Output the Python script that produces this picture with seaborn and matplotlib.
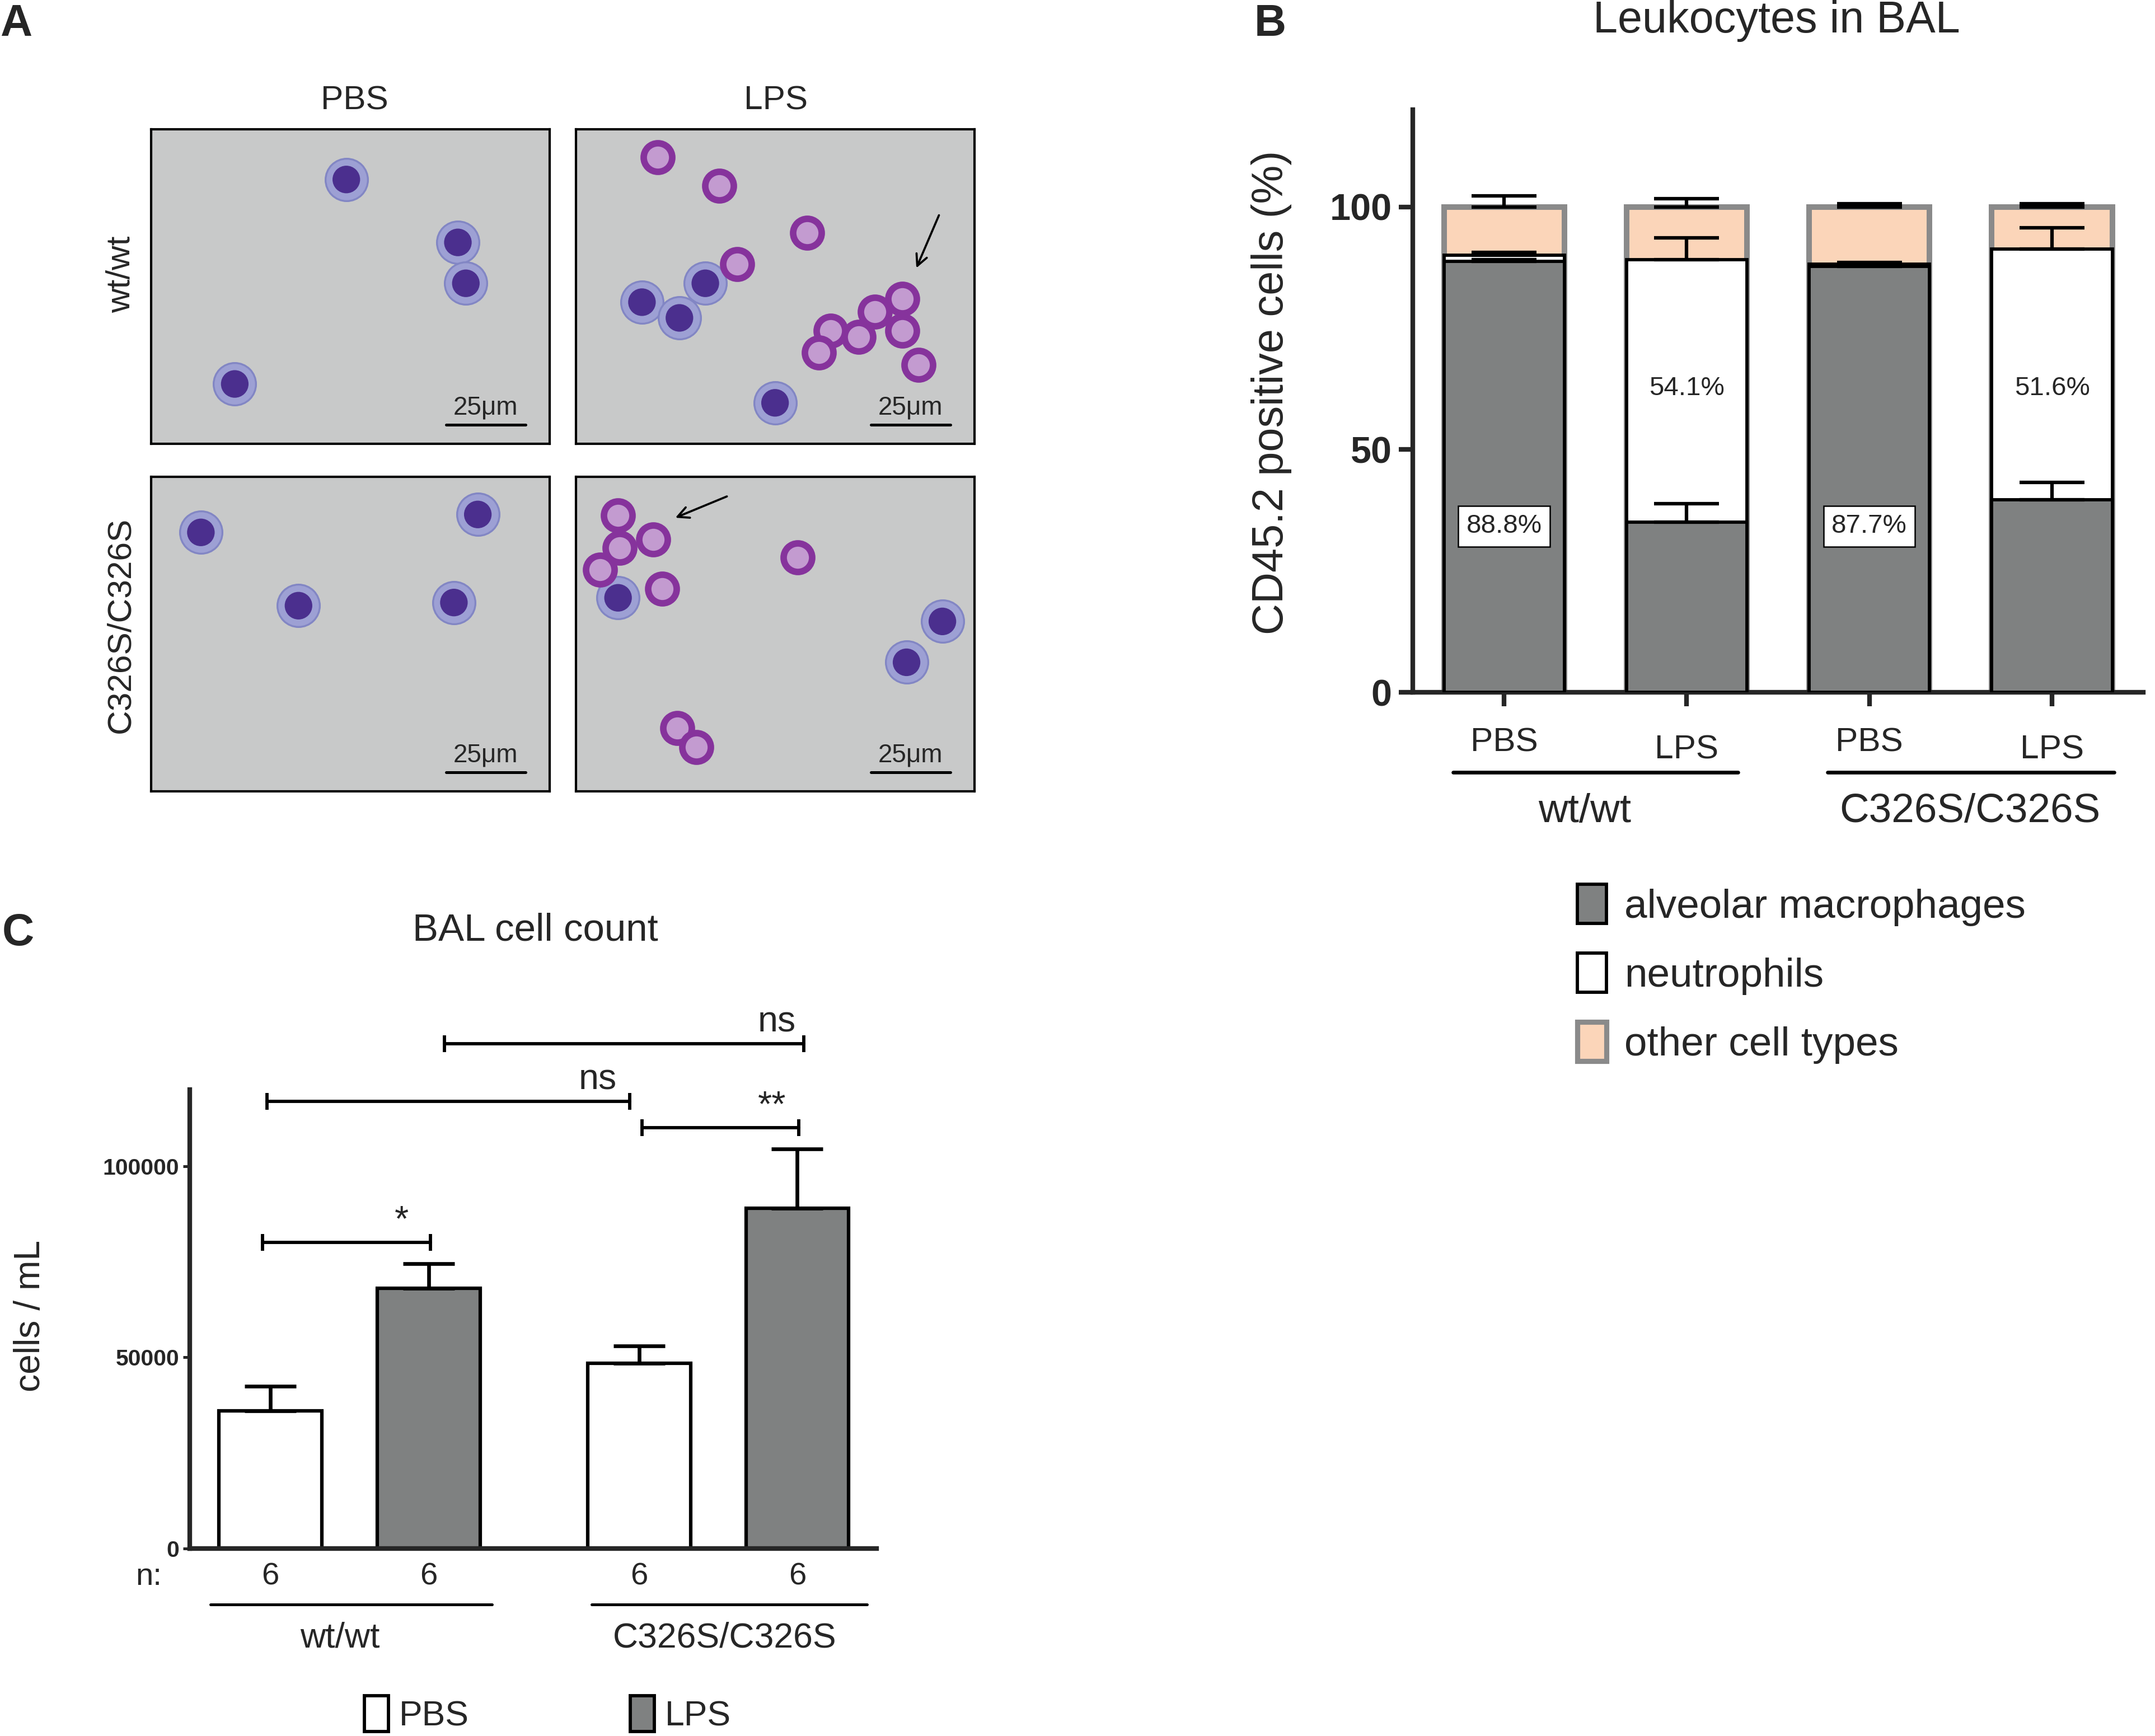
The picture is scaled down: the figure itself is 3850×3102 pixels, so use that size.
import numpy as np
import pandas as pd
import seaborn as sns
import matplotlib.pyplot as plt
from matplotlib.patches import Patch

sns.set_theme(style='ticks')
plt.rcParams['font.family'] = ['Liberation Sans', 'DejaVu Sans']

# ---- panel A: cell positions (fraction of panel, y from top)
img_cols = ['PBS', 'LPS']
img_rows = ['wt/wt', 'C326S/C326S']
macro_xy = {
    (0, 0): ([0.49, 0.77, 0.79, 0.21], [0.16, 0.36, 0.49, 0.81]),
    (0, 1): ([0.166, 0.26, 0.325, 0.50], [0.55, 0.60, 0.49, 0.87]),
    (1, 0): ([0.125, 0.82, 0.37, 0.76], [0.177, 0.12, 0.41, 0.40]),
    (1, 1): ([0.106, 0.92, 0.83], [0.385, 0.46, 0.59]),
}
neutro_xy = {
    (0, 0): ([], []),
    (0, 1): ([0.206, 0.36, 0.58, 0.405, 0.82, 0.75, 0.64, 0.71, 0.82, 0.61, 0.86],
             [0.09, 0.18, 0.33, 0.43, 0.54, 0.58, 0.64, 0.66, 0.64, 0.71, 0.75]),
    (1, 0): ([], []),
    (1, 1): ([0.106, 0.11, 0.194, 0.061, 0.217, 0.556, 0.254, 0.303],
             [0.123, 0.226, 0.20, 0.295, 0.357, 0.257, 0.80, 0.86]),
}
arrows = {(0, 1): ((0.85, 0.455), (0.916, 0.26)), (1, 1): ((0.239, 0.136), (0.39, 0.057))}
scale_label = '25μm'

# ---- panel B: leukocyte composition (%)
cond_b = ['wt PBS', 'wt LPS', 'mut PBS', 'mut LPS']
treat_b = ['PBS', 'LPS', 'PBS', 'LPS']
genotypes = ['wt/wt', 'C326S/C326S']
macro = [88.8, 35.0, 87.7, 39.7]
neutro = [1.2, 54.1, 0.5, 51.6]
other = [10.0, 10.9, 11.8, 8.7]
macro_err = [0.3, 3.9, 0.3, 3.5]
neutro_err = [0.6, 4.5, 0.3, 4.4]
other_err = [2.2, 1.7, 0.6, 0.6]
pct_labels = ['88.8%', '54.1%', '87.7%', '51.6%']
cell_types = ['alveolar macrophages', 'neutrophils', 'other cell types']

# ---- panel C: BAL cell count
treat_c = ['PBS', 'LPS', 'PBS', 'LPS']
pos_c = [0, 1, 2.33, 3.33]
count_c = [36000, 68000, 48500, 89000]
count_err = [6500, 6500, 4500, 15500]
n_c = [6, 6, 6, 6]
sig_x0 = [-0.05, -0.02, 2.35, 1.10]
sig_x1 = [1.01, 2.27, 3.34, 3.37]
sig_y = [80000, 117000, 110000, 132000]
sig_tx = [0.83, 2.07, 3.17, 3.20]
sig_text = ['*', 'ns', '**', 'ns']

GRAY = '#7f8181'
PEACH = '#fbd5b9'

fig = plt.figure(figsize=(3850 / 300, 3102 / 300), dpi=300)

# ================= panel A =================
img_left = [0.0701, 0.2672]
img_bottom = [0.7444, 0.5442]
for r in range(2):
    for c in range(2):
        ax = fig.add_axes([img_left[c], img_bottom[r], 0.1849, 0.1812])
        ax.set_facecolor('#c8c9c9')
        ax.set_xlim(0, 1)
        ax.set_ylim(1, 0)
        ax.set_xticks([])
        ax.set_yticks([])
        for s in ax.spines.values():
            s.set_linewidth(1.0)
            s.set_color('black')
        mx, my = macro_xy[(r, c)]
        if mx:
            sns.scatterplot(x=mx, y=my, s=330, color='#9da0d4', edgecolor='#8286c4',
                            linewidth=0.8, ax=ax, legend=False, zorder=3)
            sns.scatterplot(x=mx, y=my, s=140, color='#4b2f8e', edgecolor='none',
                            ax=ax, legend=False, zorder=4)
        nx, ny = neutro_xy[(r, c)]
        if nx:
            sns.scatterplot(x=nx, y=ny, s=150, color='#c39bd0', edgecolor='#86339c',
                            linewidth=2.8, ax=ax, legend=False, zorder=3)
        if (r, c) in arrows:
            tip, tail = arrows[(r, c)]
            ax.annotate('', xy=tip, xytext=tail,
                        arrowprops=dict(arrowstyle='->', lw=0.9, color='black'))
        ax.plot([0.74, 0.94], [0.94, 0.94], color='black', lw=1.2)
        ax.text(0.84, 0.925, scale_label, ha='center', va='bottom', fontsize=11)

fig.text(0.1645, 0.942, img_cols[0], ha='center', va='center', fontsize=14.5)
fig.text(0.360, 0.942, img_cols[1], ha='center', va='center', fontsize=14.5)
fig.text(0.056, 0.842, img_rows[0], ha='center', va='center', rotation=90, fontsize=14.5)
fig.text(0.056, 0.640, img_rows[1], ha='center', va='center', rotation=90, fontsize=14.5)

# ================= panel B =================
axb = fig.add_axes([0.6556, 0.6012, 0.339, 0.3356])
top = [m + n + o for m, n, o in zip(macro, neutro, other)]
mid = [m + n for m, n in zip(macro, neutro)]
sns.barplot(x=cond_b, y=top, order=cond_b, color=PEACH, saturation=1, width=0.66,
            edgecolor='#8a8a8a', linewidth=2.4, ax=axb, zorder=1)
sns.barplot(x=cond_b, y=mid, order=cond_b, color='white', saturation=1, width=0.66,
            edgecolor='black', linewidth=1.4, ax=axb, zorder=2)
sns.barplot(x=cond_b, y=macro, order=cond_b, color=GRAY, saturation=1, width=0.66,
            edgecolor='black', linewidth=1.4, ax=axb, zorder=3)
xb = np.arange(len(cond_b))
zeros = np.zeros(len(cond_b))
for yv, ev in [(macro, macro_err), (mid, neutro_err), (top, other_err)]:
    axb.errorbar(xb, yv, yerr=[zeros, ev], fmt='none', ecolor='black',
                 elinewidth=1.5, capsize=14, capthick=1.5, zorder=4)
for i, lab in enumerate(pct_labels):
    if treat_b[i] == 'PBS':
        axb.text(i, 34.2, lab, ha='center', va='center', fontsize=11.4, zorder=5,
                 bbox=dict(boxstyle='square,pad=0.3', fc='white', ec='black', lw=0.6))
    else:
        axb.text(i, 62.6, lab, ha='center', va='center', fontsize=11.4, zorder=5)

axb.set_xlim(-0.5, 3.5)
axb.set_ylim(0, 120)
axb.set_yticks([0, 50, 100])
axb.set_xticks(xb)
axb.set_xticklabels(treat_b)
axb.set_xlabel('')
axb.set_ylabel('')
sns.despine(ax=axb)
for s in ['left', 'bottom']:
    axb.spines[s].set_linewidth(2.0)
axb.tick_params(axis='y', labelsize=16, width=2.0, length=6, pad=3)
axb.tick_params(axis='x', labelsize=14.5, width=2.0, length=6, pad=9)
for t in axb.get_yticklabels():
    t.set_fontweight('bold')
for t, tr in zip(axb.get_xticklabels(), treat_b):
    if tr == 'LPS':
        t.set_y(-0.012)
tb = axb.get_xaxis_transform()
for g, (x0, x1, xt) in enumerate([(-0.28, 1.28, 0.44), (1.77, 3.34, 2.55)]):
    axb.plot([x0, x1], [-0.137, -0.137], color='black', lw=1.6, transform=tb, clip_on=False)
    axb.text(xt, -0.205, genotypes[g], ha='center', va='center',
             fontsize=17.5, transform=tb)
fig.text(0.590, 0.774, 'CD45.2 positive cells (%)', rotation=90, ha='center',
         va='center', fontsize=18.6)
fig.text(0.8245, 0.988, 'Leukocytes in BAL', ha='center', va='center', fontsize=19)

leg_handles = [Patch(fc=GRAY, ec='black', lw=1.4),
               Patch(fc='white', ec='black', lw=1.4),
               Patch(fc=PEACH, ec='#8a8a8a', lw=2.2)]
fig.legend(leg_handles, cell_types, loc='upper left', bbox_to_anchor=(0.7245, 0.5),
           frameon=False, fontsize=17.5, handlelength=0.7, handleheight=1.1,
           handletextpad=0.45, labelspacing=0.66, borderaxespad=0)

# ================= panel C =================
axc = fig.add_axes([0.0880, 0.1080, 0.3187, 0.2643])
df_c = pd.DataFrame({'pos': pos_c, 'count': count_c, 'treat': treat_c})
sns.barplot(data=df_c, x='pos', y='count', hue='treat', palette={'PBS': 'white', 'LPS': GRAY},
            native_scale=True, dodge=False, width=0.65, saturation=1, errorbar=None,
            edgecolor='black', linewidth=1.5, legend=False, ax=axc)
axc.errorbar(pos_c, count_c, yerr=[np.zeros(4), count_err], fmt='none', ecolor='black',
             elinewidth=1.6, capsize=11, capthick=1.6)
for x0, x1, y, tx, lab in zip(sig_x0, sig_x1, sig_y, sig_tx, sig_text):
    axc.plot([x0, x1], [y, y], color='black', lw=1.4, marker='|', markersize=7,
             markeredgewidth=1.4, clip_on=False)
    axc.text(tx, y + 1200, lab, ha='center', va='bottom', fontsize=15.5, clip_on=False)

axc.set_xlim(-0.51, 3.83)
axc.set_ylim(0, 120000)
axc.set_yticks([0, 50000, 100000])
axc.set_yticklabels(['0', '50000', '100000'])
axc.set_xticks([])
axc.set_xlabel('')
axc.set_ylabel('')
sns.despine(ax=axc)
for s in ['left', 'bottom']:
    axc.spines[s].set_linewidth(2.0)
axc.tick_params(axis='y', labelsize=9.8, width=1.2, length=3, pad=1.5)
for t in axc.get_yticklabels():
    t.set_fontweight('bold')
tc = axc.get_xaxis_transform()
axc.text(-0.77, -0.062, 'n:', ha='center', va='center', fontsize=13.5, transform=tc)
for p, n in zip(pos_c, n_c):
    axc.text(p, -0.062, str(n), ha='center', va='center', fontsize=13.5, transform=tc)
for g, (x0, x1, xt) in enumerate([(-0.38, 1.40, 0.44), (2.03, 3.77, 2.87)]):
    axc.plot([x0, x1], [-0.122, -0.122], color='black', lw=1.2, transform=tc, clip_on=False)
    axc.text(xt, -0.195, genotypes[g], ha='center', va='center',
             fontsize=15, transform=tc)
fig.text(0.014, 0.242, 'cells / mL', rotation=90, ha='center', va='center', fontsize=15.4)
fig.text(0.2485, 0.464, 'BAL cell count', ha='center', va='center', fontsize=16.6)

leg_c = [Patch(fc='white', ec='black', lw=1.4), Patch(fc=GRAY, ec='black', lw=1.4)]
fig.legend(leg_c, ['PBS', 'LPS'], loc='center left', bbox_to_anchor=(0.1625, 0.0125),
           ncol=2, frameon=False, fontsize=15, handlelength=0.7, handleheight=1.2,
           handletextpad=0.3, columnspacing=4.6, borderaxespad=0)

# panel letters
for letter, x, y in [('A', 0.0, 0.986), ('B', 0.582, 0.986), ('C', 0.001, 0.462)]:
    fig.text(x, y, letter, ha='left', va='center', fontsize=19, fontweight='bold')

fig.savefig('out.png', dpi=300)
